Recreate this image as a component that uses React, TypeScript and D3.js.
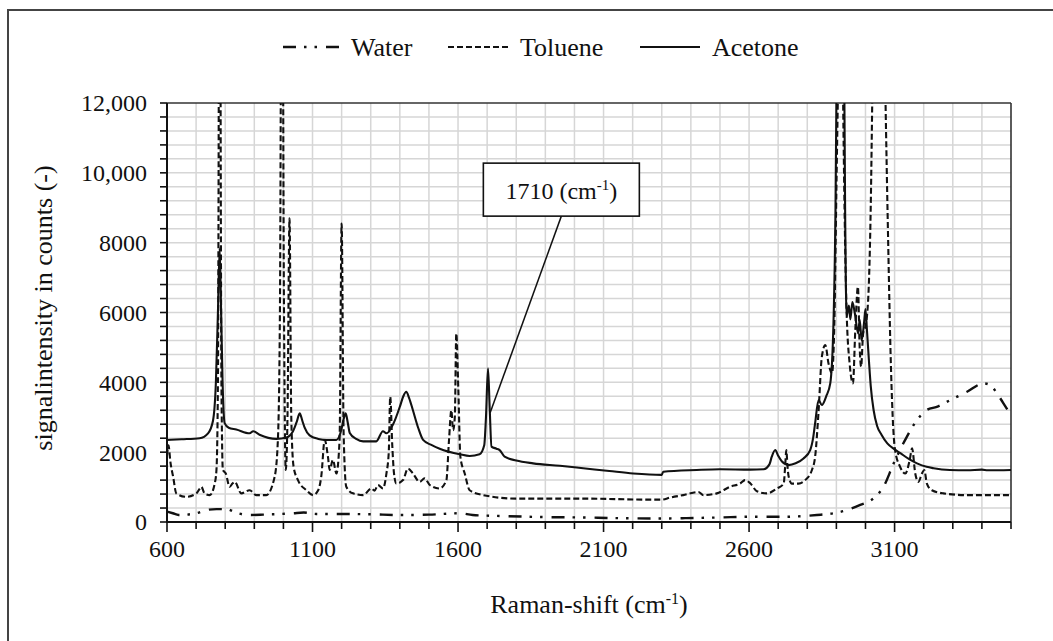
import React from "react";
import * as d3 from "d3";

// ---- data (Raman shift cm-1, counts) ----
const acetoneSeries: [number, number][] = [
  [600, 2350], [650, 2370], [712, 2400], [741, 2540], [758, 2900], [768, 4000], [775, 6000], [781, 7840], [786, 6000], [791, 4000], [798, 2830], [812, 2700], [838, 2650], [884, 2540], [896, 2600], [918, 2500], [976, 2380], [1010, 2420], [1033, 2600], [1045, 2850], [1056, 3110], [1065, 2900], [1073, 2700], [1090, 2480], [1120, 2380], [1148, 2350], [1182, 2350], [1199, 2640], [1207, 2950], [1214, 3110], [1221, 2850], [1228, 2550], [1250, 2380], [1274, 2310], [1319, 2310], [1342, 2600], [1354, 2540], [1377, 2800], [1400, 3300], [1412, 3600], [1422, 3730], [1432, 3550], [1445, 3200], [1463, 2700], [1480, 2350], [1510, 2200], [1537, 2100], [1606, 1940], [1640, 1890], [1674, 1940], [1690, 2200], [1696, 3000], [1703, 4400], [1709, 3200], [1715, 2160], [1732, 2100], [1743, 2060], [1760, 1870], [1800, 1760], [1858, 1680], [1950, 1610], [2030, 1540], [2120, 1460], [2202, 1390], [2300, 1350], [2305, 1440], [2420, 1490], [2500, 1510], [2604, 1500], [2650, 1510], [2670, 1650], [2678, 1870], [2690, 2060], [2700, 1900], [2713, 1730], [2736, 1630], [2760, 1680], [2787, 1820], [2810, 2060], [2820, 2400], [2827, 2830], [2839, 3490], [2850, 3350], [2865, 3600], [2879, 3970], [2890, 5690], [2897, 9000], [2902, 14000], [2915, 20000], [2926, 14000], [2930, 9000], [2935, 5900], [2943, 6200], [2948, 5800], [2955, 6300], [2963, 6000], [2975, 5400], [2980, 5800], [2987, 5200], [2995, 5700], [3000, 6100], [3005, 5500], [3012, 4600], [3018, 3900], [3028, 3200], [3040, 2750], [3055, 2500], [3075, 2250], [3100, 2080], [3120, 1970], [3150, 1800], [3177, 1680], [3210, 1580], [3234, 1540], [3290, 1490], [3350, 1480], [3400, 1500], [3420, 1480], [3500, 1490],
];

const tolueneSeries: [number, number][] = [
  [600, 1900], [605, 2200], [612, 1700], [621, 1300], [632, 820], [666, 720], [701, 820], [712, 950], [718, 1010], [729, 820], [747, 770], [764, 1100], [770, 1500], [775, 4000], [781, 20000], [787, 4000], [792, 1490], [802, 1390], [815, 1010], [825, 1100], [833, 1150], [855, 820], [884, 910], [907, 770], [941, 770], [970, 1300], [981, 2350], [988, 6000], [995, 20000], [1002, 6000], [1008, 1490], [1014, 3000], [1021, 8700], [1027, 3000], [1035, 1580], [1050, 1200], [1079, 910], [1102, 770], [1119, 900], [1130, 1300], [1142, 2350], [1153, 1870], [1159, 1490], [1170, 1780], [1182, 1390], [1193, 2350], [1200, 8550], [1207, 2500], [1216, 1010], [1239, 820], [1274, 770], [1302, 960], [1313, 900], [1325, 1060], [1342, 960], [1354, 1390], [1362, 2000], [1367, 3590], [1374, 2200], [1380, 1390], [1388, 1100], [1411, 1200], [1428, 1530], [1445, 1390], [1468, 1150], [1485, 1250], [1503, 1060], [1537, 960], [1560, 1200], [1569, 2350], [1577, 3200], [1583, 2630], [1589, 3010], [1594, 5400], [1601, 3800], [1608, 1870], [1623, 1390], [1640, 910], [1686, 770], [1800, 670], [2030, 670], [2259, 640], [2300, 640], [2329, 700], [2374, 770], [2426, 860], [2443, 770], [2489, 820], [2535, 1010], [2569, 1100], [2586, 1200], [2604, 1110], [2627, 880], [2661, 820], [2696, 960], [2719, 1100], [2724, 1600], [2728, 2060], [2732, 1600], [2736, 1300], [2747, 1100], [2770, 1100], [2793, 1200], [2816, 1490], [2827, 1870], [2839, 3200], [2850, 4730], [2862, 5070], [2873, 4540], [2885, 4260], [2893, 5690], [2900, 9500], [2908, 14000], [2915, 20000], [2922, 13000], [2928, 9000], [2935, 6070], [2946, 4500], [2957, 3970], [2965, 5500], [2974, 6740], [2980, 5000], [2985, 4450], [2992, 5400], [3000, 5600], [3010, 6500], [3018, 9000], [3024, 12500], [3032, 17000], [3060, 17000], [3068, 12500], [3078, 8000], [3086, 4900], [3101, 2100], [3119, 1580], [3137, 1390], [3152, 1780], [3160, 2110], [3171, 1390], [3182, 1150], [3194, 1390], [3202, 1490], [3211, 1100], [3228, 910], [3268, 820], [3349, 770], [3500, 770],
];

const waterSeries: [number, number][] = [
  [600, 300], [620, 250], [640, 200], [700, 250], [735, 340], [770, 370], [804, 370], [840, 260], [880, 200], [930, 210], [1033, 250], [1070, 270], [1113, 230], [1200, 230], [1300, 220], [1400, 200], [1500, 210], [1606, 250], [1650, 200], [1760, 170], [1900, 140], [2030, 130], [2150, 110], [2300, 100], [2380, 110], [2500, 130], [2604, 150], [2719, 150], [2833, 200], [2890, 250], [2936, 340], [2982, 490], [3028, 680], [3062, 1010], [3097, 1680], [3142, 2440], [3177, 2920], [3211, 3210], [3245, 3300], [3291, 3490], [3349, 3730], [3406, 3970], [3429, 3920], [3452, 3680], [3474, 3400], [3500, 3060],
];

const xTickLabels = [600, 1100, 1600, 2100, 2600, 3100];
const yTickLabels = ["0", "2000", "4000", "6000", "8000", "10,000", "12,000"];
const yTickValues = [0, 2000, 4000, 6000, 8000, 10000, 12000];
const seriesNames = ["Water", "Toluene", "Acetone"];
const annotationText = "1710 (cm";
const annotationPoint: [number, number] = [1710, 3120];
const annotationAnchor: [number, number] = [1955, 8760];

const FONT = "'Liberation Serif', 'Times New Roman', serif";
const INK = "#111";

export default function App() {
  const W = 1053, H = 641;
  const x = d3.scaleLinear().domain([600, 3500]).range([167, 1011]);
  const y = d3.scaleLinear().domain([0, 12000]).range([522, 103]);
  const line = d3.line<[number, number]>().x(d => x(d[0])).y(d => y(d[1])).curve(d3.curveMonotoneX);

  const vGrid = d3.range(700, 3500, 100);
  const hGrid = d3.range(400, 12000, 400);
  const xMinor = d3.range(600, 3501, 100);
  const yMinor = d3.range(0, 12001, 400);

  const styles: Record<string, any> = {
    Water: { dash: "13,8,2.5,8,2.5,9", width: 2.4 },
    Toluene: { dash: "6,3", width: 2.1 },
    Acetone: { dash: "none", width: 2.1 },
  };
  const seriesData: Record<string, [number, number][]> = {
    Water: waterSeries, Toluene: tolueneSeries, Acetone: acetoneSeries,
  };
  const legendPos: Record<string, [number, number]> = {
    Water: [283, 351], Toluene: [448, 520], Acetone: [640, 712],
  };

  const ax = x(annotationAnchor[0]);
  const ay = y(annotationAnchor[1]);
  const boxW = 156, boxH = 53;

  return (
    <svg width={W} height={H} style={{ position: "absolute", left: 0, top: 0, background: "#fff" }} fontFamily={FONT}>
      <rect x={0} y={0} width={W} height={H} fill="#fff" />
      {/* outer frame */}
      <rect x={8} y={10} width={1200} height={800} fill="none" stroke="#444" strokeWidth={2} />
      <defs>
        <clipPath id="plotClip">
          <rect x={167} y={103} width={844} height={419} />
        </clipPath>
      </defs>
      {/* gridlines */}
      {vGrid.map(v => (
        <line key={"vg" + v} x1={x(v)} x2={x(v)} y1={y(0)} y2={y(12000)} stroke="#d6d6d6" strokeWidth={1.5} />
      ))}
      {hGrid.map(v => (
        <line key={"hg" + v} x1={x(600)} x2={x(3500)} y1={y(v)} y2={y(v)} stroke="#d6d6d6" strokeWidth={1.5} />
      ))}
      {/* top / right frame of plot */}
      <line x1={x(600)} x2={x(3500)} y1={y(12000)} y2={y(12000)} stroke="#333" strokeWidth={1.6} />
      <line x1={x(3500)} x2={x(3500)} y1={y(0)} y2={y(12000)} stroke="#333" strokeWidth={1.6} />

      {/* series */}
      <g clipPath="url(#plotClip)">
        {seriesNames.map(n => (
          <path key={n} d={line(seriesData[n]) || ""} fill="none" stroke={INK}
            strokeWidth={styles[n].width} strokeDasharray={styles[n].dash} strokeLinejoin="round" />
        ))}
      </g>

      {/* axes */}
      <line x1={x(600)} x2={x(600)} y1={y(0) + 1} y2={y(12000)} stroke={INK} strokeWidth={2} />
      <line x1={x(600) - 1} x2={x(3500)} y1={y(0)} y2={y(0)} stroke={INK} strokeWidth={2} />
      {yMinor.map(v => (
        <line key={"yt" + v} x1={x(600) - 7} x2={x(600)} y1={y(v)} y2={y(v)} stroke={INK} strokeWidth={1.6} />
      ))}
      {xMinor.map(v => (
        <line key={"xt" + v} x1={x(v)} x2={x(v)} y1={y(0)} y2={y(0) + ((v - 600) % 500 === 0 ? 10 : 7)} stroke={INK} strokeWidth={1.6} />
      ))}
      {yTickValues.map((v, i) => (
        <text key={"yl" + v} x={147} y={y(v)} dy="0.35em" textAnchor="end" fontSize={24} fill={INK}>{yTickLabels[i]}</text>
      ))}
      {xTickLabels.map(v => (
        <text key={"xl" + v} x={x(v)} y={557} textAnchor="middle" fontSize={24} fill={INK}>{v}</text>
      ))}

      {/* axis titles */}
      <text x={589} y={613} textAnchor="middle" fontSize={26} fill={INK}>
        Raman-shift (cm<tspan dy={-9} fontSize={16}>-1</tspan><tspan dy={9}>)</tspan>
      </text>
      <text transform="translate(52,308) rotate(-90)" textAnchor="middle" fontSize={26} fill={INK}>signalintensity in counts (-)</text>

      {/* legend */}
      {seriesNames.map(n => (
        <g key={"lg" + n}>
          <line x1={legendPos[n][0]} x2={legendPos[n][0] + 60} y1={47} y2={47} stroke={INK}
            strokeWidth={styles[n].width} strokeDasharray={styles[n].dash} />
          <text x={legendPos[n][1]} y={56} fontSize={26} fill={INK}>{n}</text>
        </g>
      ))}

      {/* annotation */}
      <line x1={ax} y1={ay} x2={x(annotationPoint[0])} y2={y(annotationPoint[1])} stroke={INK} strokeWidth={1.5} />
      <rect x={ax - boxW / 2} y={ay - boxH} width={boxW} height={boxH} fill="#fff" stroke={INK} strokeWidth={1.6} />
      <text x={ax} y={ay - 17} textAnchor="middle" fontSize={24} fill={INK}>
        {annotationText}<tspan dy={-9} fontSize={15}>-1</tspan><tspan dy={9}>)</tspan>
      </text>
    </svg>
  );
}
